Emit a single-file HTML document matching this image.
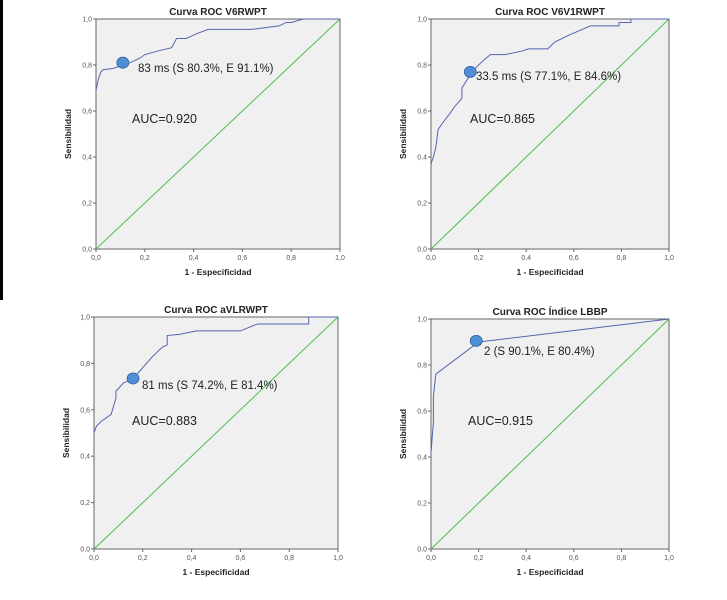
<!DOCTYPE html>
<html><head><meta charset="utf-8">
<style>
html,body{margin:0;padding:0;background:#fff;}
svg{display:block;font-family:"Liberation Sans",sans-serif;}
</style></head>
<body>
<svg id="c" width="727" height="600" viewBox="0 0 727 600">
<rect x="0" y="0" width="3" height="300" fill="#000"/>
</svg>
<script>
const titles = ["Curva ROC V6RWPT","Curva ROC V6V1RWPT","Curva ROC aVLRWPT","Curva ROC Índice LBBP"];
const annotations = ["83 ms (S 80.3%, E 91.1%)","33.5 ms (S 77.1%, E 84.6%)","81 ms (S 74.2%, E 81.4%)","2 (S 90.1%, E 80.4%)"];
const aucLabels = ["AUC=0.920","AUC=0.865","AUC=0.883","AUC=0.915"];
const xTicks = [0,0.2,0.4,0.6,0.8,1.0];
const yTicks = [0,0.2,0.4,0.6,0.8,1.0];
const tickLabels = ["0,0","0,2","0,4","0,6","0,8","1,0"];
const fpr1 = [0,0.01,0.02,0.03,0.07,0.11,0.14,0.18,0.2,0.25,0.31,0.33,0.37,0.41,0.46,0.64,0.75,0.78,0.8,0.85,1];
const tpr1 = [0.69,0.74,0.77,0.78,0.785,0.80,0.81,0.83,0.845,0.86,0.875,0.915,0.915,0.935,0.955,0.955,0.97,0.985,0.985,1,1];
const fpr2 = [0,0.01,0.02,0.03,0.05,0.08,0.1,0.13,0.13,0.16,0.19,0.22,0.25,0.31,0.38,0.41,0.49,0.52,0.58,0.67,0.79,0.79,0.84,0.84,1];
const tpr2 = [0.37,0.4,0.44,0.52,0.55,0.59,0.62,0.655,0.70,0.75,0.79,0.82,0.845,0.845,0.86,0.87,0.87,0.9,0.93,0.97,0.97,0.985,0.985,1,1];
const fpr3 = [0,0.01,0.03,0.07,0.09,0.09,0.12,0.16,0.19,0.24,0.28,0.3,0.3,0.35,0.42,0.6,0.67,0.88,0.88,1];
const tpr3 = [0.5,0.53,0.55,0.58,0.65,0.68,0.715,0.735,0.77,0.83,0.87,0.88,0.92,0.925,0.94,0.94,0.97,0.97,1,1];
const fpr4 = [0,0,0.01,0.01,0.02,0.2,1];
const tpr4 = [0.4,0.42,0.55,0.66,0.76,0.9,1];
const cutX = [0.11,0.165,0.16,0.19];
const cutY = [0.81,0.77,0.735,0.905];
const fprs=[fpr1,fpr2,fpr3,fpr4], tprs=[tpr1,tpr2,tpr3,tpr4];
const boxes=[{l:96,r:340,t:19,b:249},{l:431,r:669,t:19,b:249},{l:94,r:338,t:317,b:549},{l:431,r:669,t:319,b:549}];
const annPos=[[138,72,132,123],[476,80,470,123],[142,389,132,425],[484,355,468,425]];
const NS="http://www.w3.org/2000/svg";
const svg=document.getElementById('c');
function mk(tag,attrs,parent){const e=document.createElementNS(NS,tag);for(const k in attrs)e.setAttribute(k,attrs[k]);(parent||svg).appendChild(e);return e;}
boxes.forEach((B,i)=>{
  const g=mk('g',{});
  
  
  const sx=v=>B.l+v*(B.r-B.l), sy=v=>B.b-v*(B.b-B.t);
  const bg=mk('rect',{x:B.l,y:B.t,width:B.r-B.l,height:B.b-B.t,fill:'#f0f0f0',stroke:'#666','stroke-width':1},g);
  
  
  const t=mk('text',{x:(B.l+B.r)/2,y:B.t-4,'text-anchor':'middle','font-size':10,'font-weight':'bold',fill:'#222'},g);
  t.textContent=titles[i];
  
  
  xTicks.forEach((v,k)=>{
    mk('line',{x1:sx(v),x2:sx(v),y1:B.b,y2:B.b+3,stroke:'#666'},g);
    const tl=mk('text',{x:sx(v),y:B.b+11,'text-anchor':'middle','font-size':7,fill:'#555'},g);
    tl.textContent=tickLabels[k];
    
    
  });
  yTicks.forEach((v,k)=>{
    mk('line',{x1:B.l-3,x2:B.l,y1:sy(v),y2:sy(v),stroke:'#666'},g);
    const tl=mk('text',{x:B.l-4,y:sy(v)+2.5,'text-anchor':'end','font-size':7,fill:'#555'},g);
    tl.textContent=tickLabels[k];
    
    
  });
  const xt=mk('text',{x:(B.l+B.r)/2,y:B.b+26,'text-anchor':'middle','font-size':8.5,'font-weight':'bold',fill:'#222'},g);
  xt.textContent='1 - Especificidad';
  
  
  const yx=B.l-25, yy=(B.t+B.b)/2;
  const yt=mk('text',{x:yx,y:yy,'text-anchor':'middle','font-size':8.5,'font-weight':'bold',fill:'#222',transform:'rotate(-90 '+yx+' '+yy+')'},g);
  yt.textContent='Sensibilidad';
  
  
  const d=mk('line',{x1:sx(0),y1:sy(0),x2:sx(1),y2:sy(1),stroke:'#4cbf4c','stroke-width':1},g);
  
  
  const pts=fprs[i].map((f,k)=>sx(f)+','+sy(tprs[i][k])).join(' ');
  const pl=mk('polyline',{points:pts,fill:'none',stroke:'#5565b0','stroke-width':1},g);
  
  
  const c=mk('ellipse',{cx:sx(cutX[i]),cy:sy(cutY[i]),rx:6,ry:5.5,fill:'#4f8fd6',stroke:'#2f5f9a','stroke-width':0.8},g);
  
  
  const P=annPos[i];
  const a=mk('text',{x:P[0],y:P[1],'font-size':11.5,fill:'#222'},g);
  a.textContent=annotations[i];
  
  
  const au=mk('text',{x:P[2],y:P[3],'font-size':12.5,fill:'#222'},g);
  au.textContent=aucLabels[i];
  
  
});
</script>
</body></html>
